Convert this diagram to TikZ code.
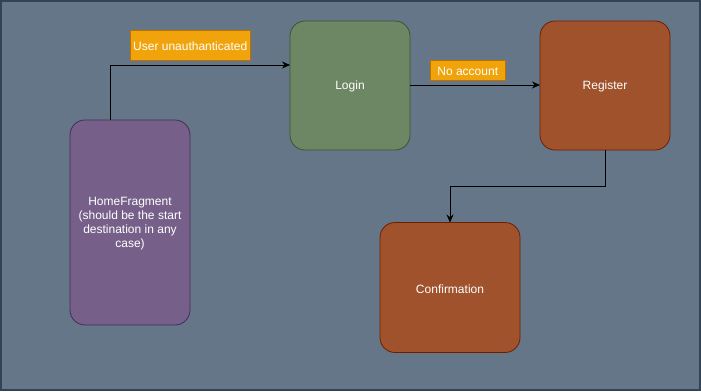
\documentclass[tikz,border=0pt]{standalone}
\usepackage{fontspec}
\setmainfont{Liberation Sans}
\usetikzlibrary{arrows.meta}
\definecolor{bg}{HTML}{647687}
\definecolor{bgline}{HTML}{314354}
\definecolor{purpfill}{HTML}{76608A}
\definecolor{purpline}{HTML}{432D57}
\definecolor{greenfill}{HTML}{6D8764}
\definecolor{greenline}{HTML}{3A5431}
\definecolor{brownfill}{HTML}{A0522D}
\definecolor{brownline}{HTML}{6D1F00}
\definecolor{orfill}{HTML}{F0A30A}
\definecolor{orline}{HTML}{BD7000}
\tikzset{
  screen/.style={rounded corners=15pt, line width=0.8pt, text=white, font=\fontsize{12}{14}\selectfont, align=center, inner sep=0pt},
  tag/.style={fill=orfill, draw=orline, line width=0.8pt, text=white, font=\fontsize{12}{14}\selectfont, inner sep=0pt},
  conn/.style={draw=black, line width=1pt, -{Stealth[length=8pt,width=7pt]}}
}
\begin{document}
\begin{tikzpicture}[x=1pt,y=-1pt]
\fill[bg] (0,0) rectangle (701,391);
\draw[bgline, line width=2pt] (1,1) rectangle (700,390);
\useasboundingbox (0,0) rectangle (701,391);

\path[screen, fill=purpfill, draw=purpline] (70,120) rectangle (190,325);
\node[screen] (home) at (130,224) {HomeFragment\\(should be the start\\destination in any\\case)};
\coordinate (homeN) at (110,120);

\path[screen, fill=greenfill, draw=greenline] (290,21) rectangle (410,150);
\node[screen] (login) at (350,86.5) {Login};
\coordinate (loginW) at (290,65);
\coordinate (loginE) at (410,85);

\path[screen, fill=brownfill, draw=brownline] (540,21) rectangle (670,150);
\node[screen] (register) at (605,86.5) {Register};
\coordinate (regW) at (540,85);
\coordinate (regS) at (605,150);

\path[screen, fill=brownfill, draw=brownline] (380,222.5) rectangle (520,352.5);
\node[screen] (confirm) at (450,289) {Confirmation};
\coordinate (confN) at (450,222.5);

\path[tag] (130,30) rectangle (250.5,60);
\node[text=white, font=\fontsize{12}{14}\selectfont, inner sep=0pt] (lab1) at (190.25,46) {User unauthanticated};
\path[tag] (430.5,60) rectangle (505,80);
\node[text=white, font=\fontsize{12}{14}\selectfont, inner sep=0pt] (lab2) at (467.75,71) {No account};

\draw[conn] (homeN) |- (loginW);
\draw[conn] (loginE) -- (regW);
\draw[conn] (regS) -- (605,186) -| (confN);
\end{tikzpicture}
\end{document}
